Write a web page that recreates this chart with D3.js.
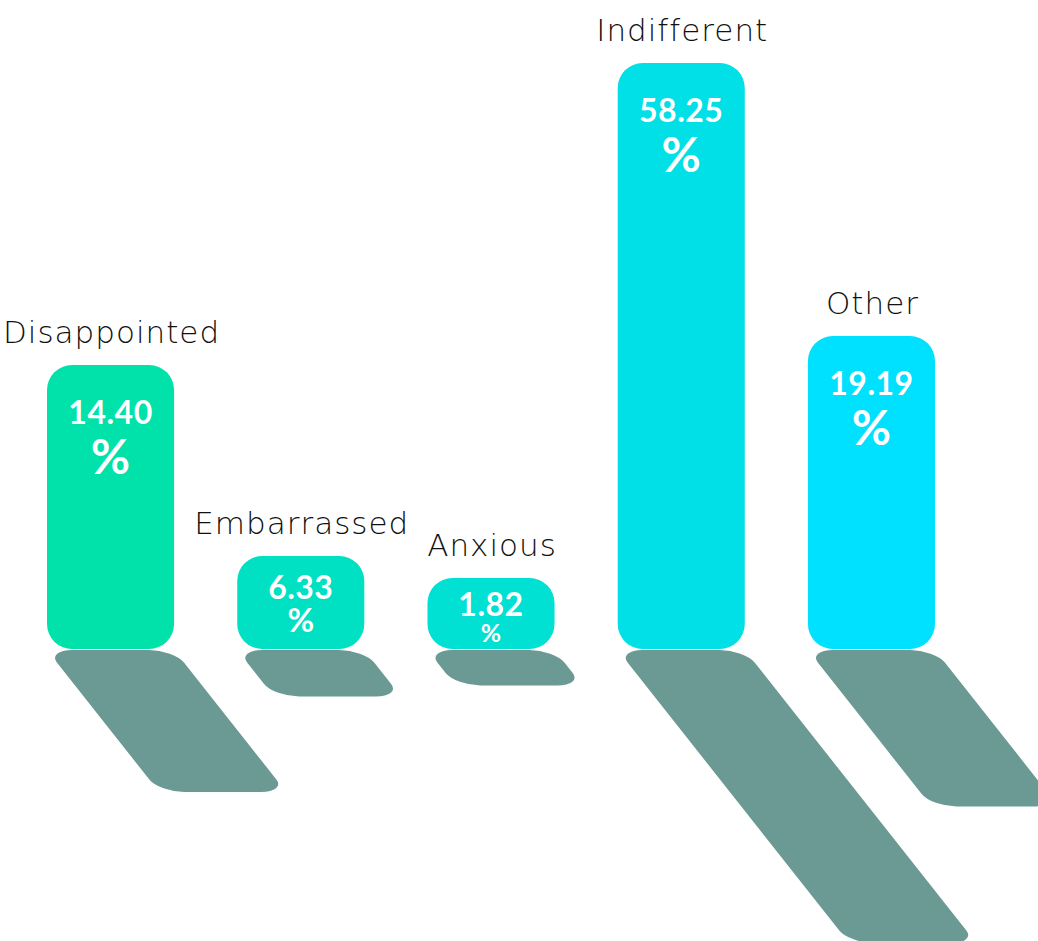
<!DOCTYPE html>
<html>
<head>
<meta charset="utf-8">
<script src="https://cdn.jsdelivr.net/npm/d3@7"></script>
<style>
  html, body { margin: 0; padding: 0; background: #ffffff; }
  svg { display: block; }
</style>
</head>
<body>
<svg id="chart" width="1038" height="941"></svg>
<script>
// ---- data ----
const categories = ["Disappointed", "Embarrassed", "Anxious", "Indifferent", "Other"];
const values = [14.40, 6.33, 1.82, 58.25, 19.19];

// ---- styles ----
const barColors = ["#00e2aa", "#00e0c2", "#00e0d3", "#00e0e6", "#00e0ff"];
const shadowColor = "#6b9a94";

const W = 1038, H = 941;
const baseline = 649;
const svg = d3.select("#chart");

const x = d3.scaleBand()
  .domain(categories)
  .range([47, 935])
  .paddingInner(0.332)
  .paddingOuter(0);

// The picture uses a monotone (polylinear) value -> height mapping
const sortedVals = [0].concat(d3.sort(values));
const y = d3.scaleLinear()
  .domain(sortedVals)
  .range([baseline, 578, 556, 365, 336, 63]);

const color = d3.scaleOrdinal().domain(categories).range(barColors);

const data = categories.map((c, i) => ({ cat: c, value: values[i] }));
const fmt = d3.format(".2f");
const R = 25;
const shear = 0.395;

function roundedRect(x0, y0, w, h, r) {
  r = Math.min(r, w / 2, h / 2);
  return `M${x0 + r},${y0}H${x0 + w - r}A${r},${r} 0 0 1 ${x0 + w},${y0 + r}` +
    `V${y0 + h - r}A${r},${r} 0 0 1 ${x0 + w - r},${y0 + h}` +
    `H${x0 + r}A${r},${r} 0 0 1 ${x0},${y0 + h - r}` +
    `V${y0 + r}A${r},${r} 0 0 1 ${x0 + r},${y0}Z`;
}

// shadows
svg.append("g").selectAll("path.shadow")
  .data(data)
  .join("path")
  .attr("class", "shadow")
  .attr("fill", shadowColor)
  .attr("transform", `matrix(1,0,${-shear},-0.5,0,${baseline + 1})`)
  .attr("d", d => {
    const h = baseline - y(d.value);
    return roundedRect(x(d.cat), -h, x.bandwidth(), h, R);
  });

// bars
svg.append("g").selectAll("path.bar")
  .data(data)
  .join("path")
  .attr("class", "bar")
  .attr("fill", d => color(d.cat))
  .attr("d", d => roundedRect(x(d.cat), y(d.value), x.bandwidth(), baseline - y(d.value), R));

// category labels
svg.append("g").selectAll("text")
  .data(data)
  .join("text")
  .attr("x", d => x(d.cat) + x.bandwidth() / 2 + 1)
  .attr("y", d => y(d.value) - 22)
  .attr("text-anchor", "middle")
  .attr("font-family", "'DejaVu Sans', sans-serif")
  .attr("font-weight", 200)
  .attr("font-size", 31)
  .attr("letter-spacing", 1)
  .attr("fill", "#111")
  .text(d => d.cat);

// value labels: number + "%" on a second line, in one text element
const numSize = 32;
svg.append("g").selectAll("text")
  .data(data)
  .join("text")
  .attr("text-anchor", "middle")
  .attr("font-family", "Lato, sans-serif")
  .attr("font-weight", 700)
  .attr("fill", "#fff")
  .each(function (d) {
    const t = d3.select(this);
    const top = y(d.value);
    const h = baseline - top;
    const cx = x(d.cat) + x.bandwidth() / 2;
    const pctSize = Math.min(48, 0.35 * h);
    const nb = top + Math.min(59, 0.2 * h + 24);
    t.append("tspan")
      .attr("x", cx).attr("y", nb)
      .attr("font-size", numSize)
      .attr("letter-spacing", 0.5)
      .text(fmt(d.value));
    t.append("tspan")
      .attr("x", cx).attr("y", nb + 1.04 * pctSize)
      .attr("font-size", pctSize)
      .text("%");
  });
</script>
</body>
</html>
